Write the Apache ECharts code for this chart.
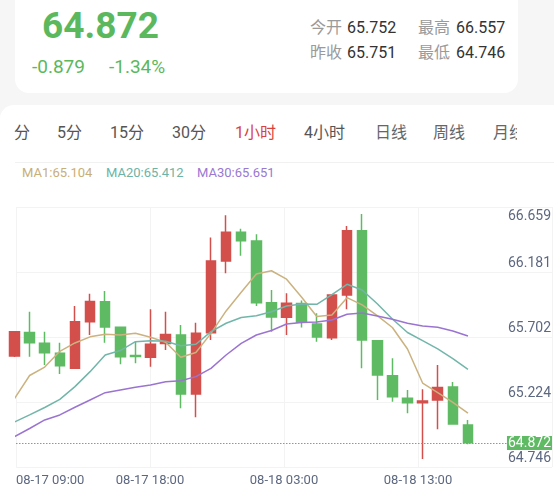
<!DOCTYPE html>
<html>
<head>
<meta charset="utf-8">
<script src="https://cdn.jsdelivr.net/npm/echarts@6/dist/echarts.min.js"></script>
<style>
body {
  margin: 0;
  width: 554px;
  height: 493px;
  overflow: hidden;
  position: relative;
  background: #f6f6f6;
  font-family: Roboto, "Noto Sans CJK SC", sans-serif;
}
.head-card {
  position: absolute;
  left: 15px;
  top: -20px;
  width: 503px;
  height: 113px;
  background: #fff;
  border-radius: 14px;
}
.price {
  position: absolute;
  left: 42px;
  top: 7px;
  font-size: 37px;
  line-height: 37px;
  font-weight: bold;
  color: #5cb85c;
}
.change {
  position: absolute;
  top: 57px;
  font-size: 19px;
  line-height: 19px;
  color: #5cb85c;
}
.stat-name, .stat-val {
  position: absolute;
  font-size: 16px;
  line-height: 16px;
}
.stat-name { color: #9a9a9a; }
.stat-val { color: #333; }
.main-card {
  position: absolute;
  left: 0;
  top: 105px;
  width: 620px;
  height: 420px;
  background: #fff;
  border-radius: 14px;
}
.tab-bar {
  position: absolute;
  left: 0;
  top: 115px;
  width: 517px;
  height: 40px;
  overflow: hidden;
}
.tab {
  position: absolute;
  top: 10px;
  font-size: 16px;
  line-height: 16px;
  color: #555;
  white-space: nowrap;
}
.tab.light { color: #666; }
.tab.active { color: #d9413e; }
.divider {
  position: absolute;
  left: 15px;
  top: 162px;
  width: 560px;
  height: 1px;
  background: #f1f1f1;
}
.ma {
  position: absolute;
  top: 166px;
  font-size: 13px;
  line-height: 13px;
}
#chart {
  position: absolute;
  left: 0;
  top: 0;
  width: 554px;
  height: 493px;
}
</style>
</head>
<body>
<div class="head-card"></div>
<div class="price">64.872</div>
<div class="change" style="left:32px">-0.879</div>
<div class="change" style="left:109px">-1.34%</div>

<div class="stat-name" style="left:310px;top:20px">今开</div>
<div class="stat-val" style="left:347px;top:20px">65.752</div>
<div class="stat-name" style="left:418px;top:20px">最高</div>
<div class="stat-val" style="left:456px;top:20px">66.557</div>
<div class="stat-name" style="left:310px;top:45px">昨收</div>
<div class="stat-val" style="left:347px;top:45px">65.751</div>
<div class="stat-name" style="left:418px;top:45px">最低</div>
<div class="stat-val" style="left:456px;top:45px">64.746</div>

<div class="main-card"></div>
<div class="tab-bar">
  <div class="tab" style="left:14px">分</div>
  <div class="tab" style="left:57px">5分</div>
  <div class="tab" style="left:110px">15分</div>
  <div class="tab" style="left:172px">30分</div>
  <div class="tab active" style="left:235px">1小时</div>
  <div class="tab" style="left:304px">4小时</div>
  <div class="tab light" style="left:375px">日线</div>
  <div class="tab light" style="left:433px">周线</div>
  <div class="tab light" style="left:493px">月线</div>
</div>
<div class="divider"></div>

<div class="ma" style="left:22px;color:#c9ae78">MA1:65.104</div>
<div class="ma" style="left:106px;color:#6db3a6">MA20:65.412</div>
<div class="ma" style="left:197px;color:#9a78d2">MA30:65.651</div>

<div id="chart"></div>

<script>
// 1小时K线
const times = [
  '08-17 09:00','08-17 10:00','08-17 11:00','08-17 12:00','08-17 13:00','08-17 14:00',
  '08-17 15:00','08-17 16:00','08-17 17:00','08-17 18:00','08-17 19:00','08-17 20:00',
  '08-17 21:00','08-17 22:00','08-17 23:00','08-18 00:00','08-18 01:00','08-18 02:00',
  '08-18 03:00','08-18 04:00','08-18 06:00','08-18 07:00','08-18 08:00','08-18 09:00',
  '08-18 10:00','08-18 11:00','08-18 12:00','08-18 13:00','08-18 14:00','08-18 15:00',
  '08-18 16:00'
];
const openPrices = [
  65.550, 65.734, 65.649, 65.571, 65.454, 65.818, 65.974, 65.774, 65.554, 65.540,
  65.648, 65.714, 65.254, 65.732, 66.292, 66.516, 66.448, 65.966, 65.852, 65.960,
  65.800, 65.693, 66.027, 66.529, 65.670, 65.396, 65.220, 65.186, 65.207, 65.308,
  65.011
];
const closePrices = [
  65.740, 65.653, 65.576, 65.475, 65.818, 65.976, 65.777, 65.545, 65.546, 65.642,
  65.718, 65.254, 65.728, 66.292, 66.516, 66.451, 65.966, 65.855, 65.962, 65.813,
  65.699, 66.027, 66.529, 65.675, 65.402, 65.232, 65.186, 65.199, 65.304, 65.019,
  64.872
];
const lowPrices = [
  65.542, 65.545, 65.480, 65.410, 65.453, 65.714, 65.654, 65.485, 65.493, 65.467,
  65.597, 65.142, 65.072, 65.675, 66.196, 66.333, 65.941, 65.740, 65.714, 65.773,
  65.662, 65.675, 65.915, 65.454, 65.207, 65.193, 65.103, 64.746, 64.978, 65.017,
  64.861
];
const highPrices = [
  65.745, 65.896, 65.740, 65.654, 65.941, 66.037, 66.058, 65.776, 65.662, 65.915,
  65.896, 65.792, 65.810, 66.476, 66.650, 66.544, 66.501, 66.066, 66.040, 65.984,
  65.884, 66.030, 66.565, 66.659, 65.671, 65.532, 65.285, 65.290, 65.480, 65.347,
  65.051
];
const ma1 = [
  65.218, 65.398, 65.464, 65.587, 65.652, 65.700, 65.720, 65.714, 65.728, 65.696,
  65.657, 65.541, 65.578, 65.727, 65.902, 66.048, 66.191, 66.216, 66.150, 66.009,
  65.859, 65.871, 66.006, 65.949, 65.866, 65.773, 65.605, 65.339, 65.265, 65.188,
  65.104
];
const ma20 = [
  65.035, 65.090, 65.148, 65.212, 65.311, 65.428, 65.558, 65.593, 65.662, 65.670,
  65.665, 65.631, 65.642, 65.740, 65.806, 65.851, 65.865, 65.896, 65.941, 65.956,
  65.954, 66.029, 66.110, 66.066, 65.958, 65.839, 65.734, 65.670, 65.606, 65.530,
  65.446
];
const ma30 = [
  64.920, 64.984, 65.051, 65.090, 65.150, 65.207, 65.264, 65.285, 65.306, 65.324,
  65.350, 65.357, 65.389, 65.454, 65.558, 65.649, 65.714, 65.749, 65.800, 65.812,
  65.816, 65.831, 65.876, 65.886, 65.863, 65.837, 65.806, 65.785, 65.774, 65.746,
  65.706
];
const lastPrice = 64.872;
// 刻度文字（从下到上 / 从左到右）
const yTickLabels = ['64.746', '65.224', '65.702', '66.181', '66.659'];
const xTickLabels = ['08-17 09:00', '08-17 18:00', '08-18 03:00', '08-18 13:00', ''];

const red = '#d24f4c';
const green = '#5fba64';
const labelColor = '#5d6880';

const candles = times.map((t, i) => [i, openPrices[i], closePrices[i], lowPrices[i], highPrices[i]]);
const toLine = arr => arr.map((v, i) => [i, v]);

const chart = echarts.init(document.getElementById('chart'));
chart.setOption({
  animation: false,
  grid: { left: 16, right: 0, top: 207, bottom: 26 },
  xAxis: [{
    type: 'value', position: 'bottom', min: 0.1, max: 35.56, show: false
  }, {
    type: 'value', position: 'bottom', min: 0, max: 4, interval: 1,
    axisLine: { show: false },
    axisTick: { show: false },
    splitLine: { show: true, lineStyle: { color: '#f3f3f3' } },
    axisLabel: {
      margin: 7,
      fontSize: 13,
      color: labelColor,
      fontFamily: 'Roboto',
      alignMinLabel: 'left',
      showMaxLabel: false,
      formatter: v => xTickLabels[Math.round(v)]
    }
  }],
  yAxis: [{
    type: 'value', position: 'left', min: 64.6835, max: 66.7137, show: false
  }, {
    type: 'value', position: 'right', min: 0, max: 4, interval: 1,
    axisLine: { show: false },
    axisTick: { show: false },
    splitLine: { show: true, lineStyle: { color: '#f3f3f3' } },
    axisLabel: {
      inside: true,
      margin: 1,
      verticalAlign: 'middle',
      formatter: v => {
        const i = Math.round(v);
        return (i === 4 ? '{t|' : '{b|') + yTickLabels[i] + '}';
      },
      rich: {
        t: { fontSize: 14, color: labelColor, fontFamily: 'Roboto', padding: [18, 0, 0, 0] },
        b: { fontSize: 14, color: labelColor, fontFamily: 'Roboto', padding: [0, 0, 17, 0] }
      }
    }
  }],
  series: [{
    type: 'candlestick',
    xAxisIndex: 0,
    yAxisIndex: 0,
    barWidth: 10,
    encode: { x: 0, y: [1, 2, 3, 4] },
    itemStyle: {
      color: red, color0: green,
      borderColor: red, borderColor0: green,
      borderWidth: 1.5
    },
    data: candles,
    markLine: {
      silent: true,
      symbol: 'none',
      lineStyle: { color: green, type: [1.5, 1.5], width: 1 },
      label: {
        position: 'insideEndTop',
        distance: 0,
        align: 'right',
        verticalAlign: 'middle',
        formatter: lastPrice.toFixed(3),
        backgroundColor: green,
        color: '#fff',
        fontSize: 14,
        fontFamily: 'Roboto',
        lineHeight: 14,
        padding: [0, 1, 0, 1]
      },
      data: [{ yAxis: lastPrice }]
    }
  }, {
    name: 'MA1', type: 'line', xAxisIndex: 0, yAxisIndex: 0,
    symbol: 'none', lineStyle: { color: '#cbb27f', width: 1.5 },
    data: toLine(ma1)
  }, {
    name: 'MA20', type: 'line', xAxisIndex: 0, yAxisIndex: 0,
    symbol: 'none', lineStyle: { color: '#72b6aa', width: 1.5 },
    data: toLine(ma20)
  }, {
    name: 'MA30', type: 'line', xAxisIndex: 0, yAxisIndex: 0,
    symbol: 'none', lineStyle: { color: '#9b74d2', width: 1.5 },
    data: toLine(ma30)
  }]
});
</script>
</body>
</html>
